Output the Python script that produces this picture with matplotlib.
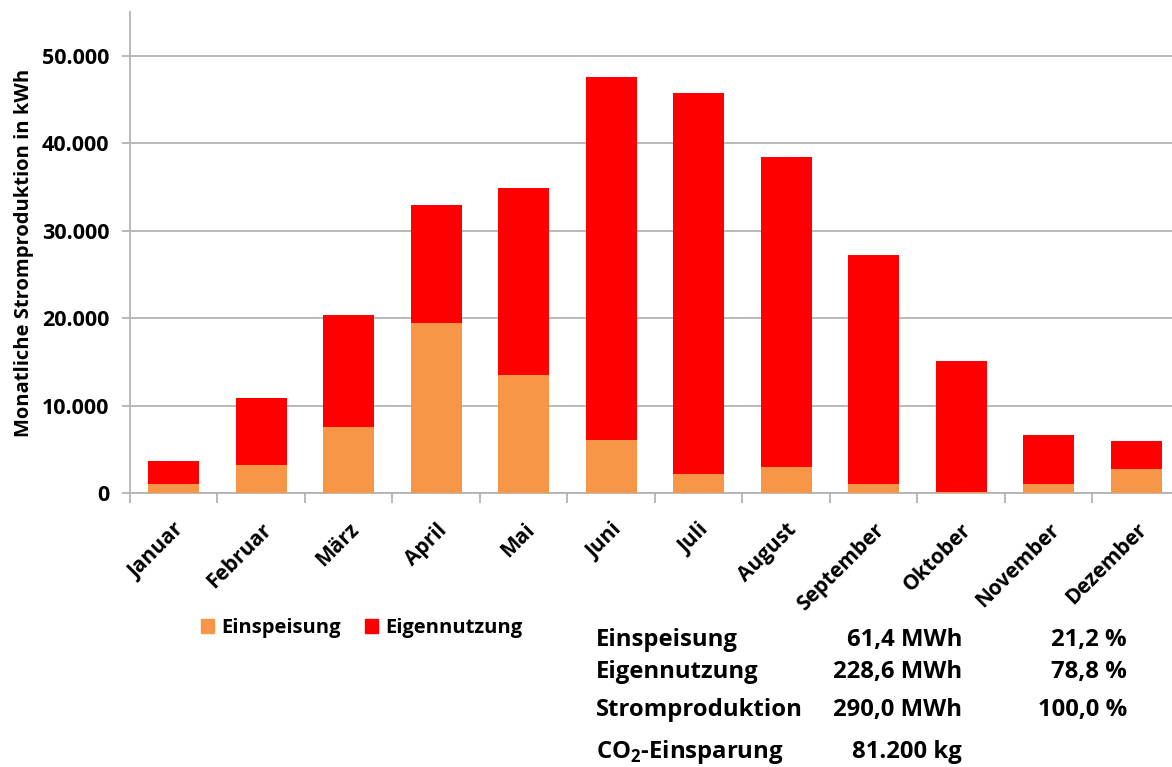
import numpy as np
import matplotlib.pyplot as plt
from matplotlib.ticker import FuncFormatter, FixedLocator
from matplotlib.patches import Patch

plt.rcParams['font.family'] = ['Open Sans', 'DejaVu Sans']
plt.rcParams['font.weight'] = 'bold'
plt.rcParams['mathtext.fontset'] = 'custom'
plt.rcParams['mathtext.bf'] = 'Open Sans:bold'

months = ["Januar", "Februar", "März", "April", "Mai", "Juni",
          "Juli", "August", "September", "Oktober", "November", "Dezember"]
einspeisung = [1050, 3250, 7550, 19450, 13500, 6050, 2200, 3000, 1050, 100, 1050, 2700]
gesamt = [3700, 10900, 20400, 32900, 34900, 47600, 45700, 38400, 27200, 15150, 6600, 5950]
eigennutzung = [g - e for g, e in zip(gesamt, einspeisung)]

summary_rows = [("Einspeisung", "61,4 MWh", "21,2 %"),
                ("Eigennutzung", "228,6 MWh", "78,8 %"),
                ("Stromproduktion", "290,0 MWh", "100,0 %")]

ORANGE = "#f79646"
RED = "#ff0000"
GRID = "#b3b3b3"

W, H = 1172, 767
fig = plt.figure(figsize=(W / 100, H / 100), dpi=100)
ax = fig.add_axes([130 / W, (H - 493) / H, (W - 130) / W, (493 - 12) / H])

x = np.arange(len(months))
ax.bar(x, einspeisung, width=0.585, color=ORANGE, label="Einspeisung", zorder=3)
ax.bar(x, eigennutzung, width=0.585, bottom=einspeisung, color=RED,
       label="Eigennutzung", zorder=3)

ax.set_ylim(0, 55000)
ax.set_xlim(-0.5, 11.41)
ax.set_yticks(np.arange(0, 50001, 10000))
ax.yaxis.set_major_formatter(FuncFormatter(lambda v, p: f"{int(v):,}".replace(",", ".")))
ax.yaxis.grid(True, color=GRID, linewidth=1.3, zorder=0)

# ticks between the categories, labels at the centres
ax.xaxis.set_major_locator(FixedLocator(np.arange(-0.5, 12, 1.0)))
ax.xaxis.set_minor_locator(FixedLocator(x))
ax.xaxis.set_major_formatter(FuncFormatter(lambda v, p: ""))
ax.set_xticklabels(months, minor=True, rotation=45, ha="right",
                   rotation_mode="anchor", fontsize=15, fontweight="bold")
ax.tick_params(axis="x", which="major", length=7, color=GRID, width=1.3)
ax.tick_params(axis="x", which="minor", length=0, pad=19)
ax.tick_params(axis="y", length=6, color=GRID, width=1.3, labelsize=15.5, pad=9)
for lbl in ax.get_yticklabels():
    lbl.set_fontweight("bold")

for s in ["top", "right"]:
    ax.spines[s].set_visible(False)
for s in ["left", "bottom"]:
    ax.spines[s].set_color(GRID)
    ax.spines[s].set_linewidth(1.3)

ax.set_ylabel("Monatliche Stromproduktion in kWh", fontsize=14.5, fontweight="bold")
ax.yaxis.set_label_coords(-0.092, 0.5)

handles = [Patch(color=ORANGE, label="Einspeisung"), Patch(color=RED, label="Eigennutzung")]
fig.legend(handles=handles, loc="center left", bbox_to_anchor=(183 / W, 1 - 628 / H),
           ncol=2, frameon=False, handlelength=0.65, handleheight=0.65,
           handletextpad=0.35, columnspacing=1.2, prop={"weight": "bold", "size": 14.5})

ys = [640, 672, 710]
for (name, mwh, pct), yy in zip(summary_rows, ys):
    fig.text(596 / W, 1 - yy / H, name, fontsize=17.2, fontweight="bold", va="center")
    fig.text(962 / W, 1 - yy / H, mwh, fontsize=17.2, fontweight="bold", va="center", ha="right")
    fig.text(1127 / W, 1 - yy / H, pct, fontsize=17.2, fontweight="bold", va="center", ha="right")
fig.text(596 / W, 1 - 752 / H, "CO$_\\mathbf{2}$-Einsparung", fontsize=17.2,
         fontweight="bold", va="center")
fig.text(962 / W, 1 - 752 / H, "81.200 kg", fontsize=17.2, fontweight="bold",
         va="center", ha="right")

fig.savefig("out.png", dpi=100, facecolor="white")
